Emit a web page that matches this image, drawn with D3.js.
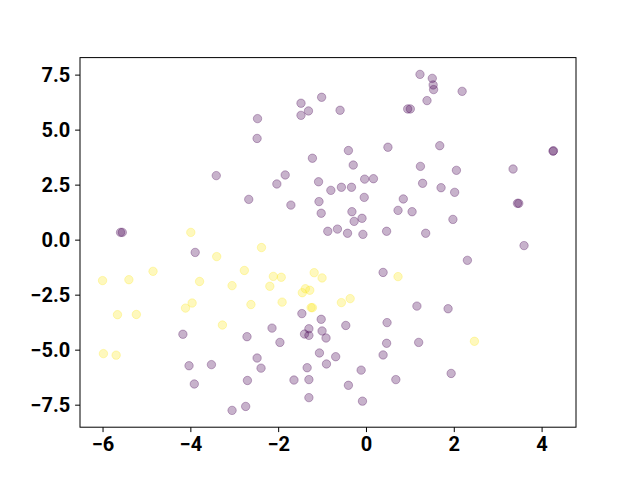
<!DOCTYPE html>
<html>
<head>
<meta charset="utf-8">
<script src="https://cdn.jsdelivr.net/npm/d3@7"></script>
<style>
  body { margin: 0; background: #fff; }
  .axis text { font-family: Roboto, sans-serif; font-weight: bold; font-size: 20px; fill: #000; }
</style>
</head>
<body>
<div id="chart"></div>
<script>
// class 0 points (dark purple)
var xPurple = [-3.41, -2.67, -5.59, -5.55, -1.01, -1.48, -1.31, -1.48, -0.59, -2.47,
  -2.48, 0.95, 1.01, 0.50, -0.40, -0.29, -1.22, -1.84, -2.03, -1.08,
  -0.80, -0.56, -0.33, -0.03, 0.17, -1.71, -1.07, -0.04, -1.02, -0.32,
  -0.09, -0.27, 0.85, 0.73, 1.05, -0.87, -0.65, -0.42, -0.07, 0.47,
  1.23, 1.51, 1.53, 1.54, 2.19, 1.39, 1.68, 4.26, 4.27, 1.24,
  2.06, 3.35, 1.29, 1.71, 2.02, 3.45, 3.48, 1.98, 1.36, 3.60,
  -3.89, -4.17, -2.71, -4.03, -3.52, -3.91, -2.70, -3.05, -2.74, 0.39,
  -1.46, -1.02, -2.14, -1.30, -1.00, -1.40, -1.30, -0.91, -0.46, -1.96,
  0.48, 0.47, 0.39, -1.06, -0.69, -2.48, -2.39, -1.34, -0.90, -0.11,
  -1.64, -1.30, -0.40, 0.68, -1.30, -0.08, 2.31, 1.16, 1.87, 1.20, 1.94];
var yPurple = [2.91, 1.83, 0.33, 0.33, 6.47, 6.20, 5.85, 5.65, 5.88, 5.50,
  4.60, 5.94, 5.94, 4.20, 4.05, 3.39, 3.70, 2.94, 2.53, 2.63,
  2.24, 2.38, 2.38, 2.75, 2.77, 1.57, 1.73, 1.92, 1.20, 1.27,
  0.97, 0.83, 1.85, 1.33, 1.27, 0.38, 0.48, 0.29, 0.24, 0.38,
  7.51, 7.33, 7.03, 6.82, 6.74, 6.32, 4.27, 4.02, 4.04, 3.33,
  3.15, 3.21, 2.56, 2.36, 2.15, 1.65, 1.65, 0.92, 0.29, -0.27,
  -0.58, -4.30, -4.41, -5.73, -5.68, -6.56, -6.40, -7.76, -7.58, -1.49,
  -3.36, -3.62, -4.02, -4.05, -4.15, -4.29, -4.35, -4.47, -3.90, -4.67,
  -3.77, -4.71, -5.24, -5.15, -5.32, -5.38, -5.84, -5.82, -5.65, -5.93,
  -6.38, -6.36, -6.62, -6.36, -7.18, -7.34, -0.94, -3.02, -3.14, -4.67, -6.08];

// class 1 points (yellow)
var xYellow = [-3.99, -3.40, -4.85, -2.77, -6.00, -5.40, -3.79, -3.05, -3.96, -4.11,
  -2.62, -5.66, -5.23, -3.27, -5.98, -5.69, -2.38, -2.11, -1.93, -2.19,
  -1.91, -1.18, -1.00, -1.38, -1.45, -1.28, -1.25, -1.22, -0.56, -0.36,
  0.73, 2.47];
var yYellow = [0.33, -0.77, -1.44, -1.40, -1.86, -1.82, -1.90, -2.09, -2.88, -3.11,
  -2.95, -3.41, -3.40, -3.88, -5.18, -5.25, -0.36, -1.67, -1.71, -2.12,
  -2.84, -1.50, -1.74, -2.23, -2.41, -2.30, -3.09, -3.09, -2.86, -2.68,
  -1.68, -4.62];

var xTicks = [-6, -4, -2, 0, 2, 4];
var yTicks = [-7.5, -5, -2.5, 0, 2.5, 5, 7.5];

var colors = ["#440154", "#fde725"];

var W = 640, H = 480,
    margin = { top: 57.6, right: 64, bottom: 52.8, left: 80 },
    width = W - margin.left - margin.right,
    height = H - margin.top - margin.bottom;

// points table built from the arrays above
var points = [];
xPurple.forEach(function(x, i) { points.push({ x: x, y: yPurple[i], c: 0 }); });
xYellow.forEach(function(x, i) { points.push({ x: x, y: yYellow[i], c: 1 }); });

// matplotlib style 5% padding around the data
function padded(ext) {
  var p = (ext[1] - ext[0]) * 0.05;
  return [ext[0] - p, ext[1] + p];
}

var x = d3.scaleLinear()
  .domain(padded(d3.extent(points, function(d) { return d.x; })))
  .range([0, width]);
var y = d3.scaleLinear()
  .domain(padded(d3.extent(points, function(d) { return d.y; })))
  .range([height, 0]);

var minus = function(s) { return s.replace("-", "\u2212"); };

var svg = d3.select("#chart").append("svg")
  .attr("width", W)
  .attr("height", H);

svg.append("rect").attr("width", W).attr("height", H).attr("fill", "#fff");

var g = svg.append("g")
  .attr("transform", "translate(" + margin.left + "," + margin.top + ")");

// scatter
g.append("g").selectAll("circle")
  .data(points)
  .enter()
  .append("circle")
  .attr("cx", function(d) { return x(d.x); })
  .attr("cy", function(d) { return y(d.y); })
  .attr("r", 4.2)
  .attr("fill", function(d) { return colors[d.c]; })
  .attr("fill-opacity", 0.3)
  .attr("stroke", function(d) { return colors[d.c]; })
  .attr("stroke-opacity", 0.3)
  .attr("stroke-width", 1);

// axes
var xAxis = d3.axisBottom(x)
  .tickValues(xTicks)
  .tickSize(4.9)
  .tickPadding(4.9)
  .tickFormat(function(d) { return minus(d3.format("d")(d)); });
var yAxis = d3.axisLeft(y)
  .tickValues(yTicks)
  .tickSize(4.9)
  .tickPadding(4.9)
  .tickFormat(function(d) { return minus(d3.format(".1f")(d)); });

var gx = g.append("g").attr("class", "axis")
  .attr("transform", "translate(0," + height + ")")
  .call(xAxis);
var gy = g.append("g").attr("class", "axis").call(yAxis);

[gx, gy].forEach(function(a) {
  a.select(".domain").remove();
  a.selectAll(".tick line").attr("stroke", "#000").attr("stroke-width", 1);
});

// frame
g.append("rect")
  .attr("width", width)
  .attr("height", height)
  .attr("fill", "none")
  .attr("stroke", "#000")
  .attr("stroke-width", 1);
</script>
</body>
</html>
